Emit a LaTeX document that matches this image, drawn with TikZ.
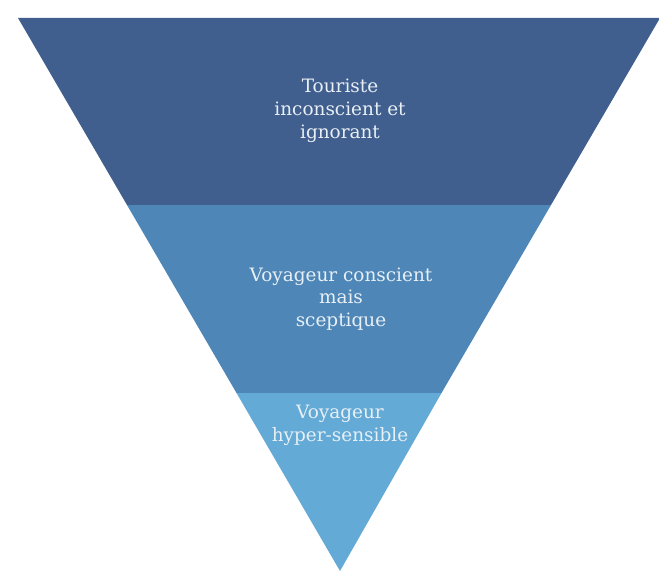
\documentclass[tikz,border=0pt]{standalone}
\usepackage{fontspec}
\setmainfont{DejaVu Serif}
\definecolor{bandtop}{RGB}{64,95,142}
\definecolor{bandmid}{RGB}{78,135,183}
\definecolor{bandlow}{RGB}{99,170,214}
\definecolor{labeltxt}{RGB}{232,239,245}

\begin{document}
\begin{tikzpicture}[x=0.02cm, y=-0.02cm,
    bandlabel/.style={text=labeltxt, align=center, font=\fontsize{10.5}{13}\selectfont, anchor=center}]
    % Cadre de l'image
    \useasboundingbox (0,0) rectangle (659,571);

    % Sommets du triangle et limites des bandes
    \coordinate (tl) at (18,18);
    \coordinate (tr) at (660,18);
    \coordinate (apex) at (340,571);
    \coordinate (ml) at (127,205);
    \coordinate (mr) at (551,205);
    \coordinate (ll) at (236.5,393);
    \coordinate (lr) at (441.5,393);

    % Les trois bandes
    \fill[bandtop] (tl) -- (tr) -- (mr) -- (ml) -- cycle;
    \fill[bandmid] (ml) -- (mr) -- (lr) -- (ll) -- cycle;
    \fill[bandlow] (ll) -- (lr) -- (apex) -- cycle;

    % Textes
    \node[bandlabel] (touriste) at (340,111) {Touriste\\inconscient et\\ignorant};
    \node[bandlabel] (conscient) at (341,299) {Voyageur conscient\\mais\\sceptique};
    \node[bandlabel] (sensible) at (340,425) {Voyageur\\hyper-sensible};
\end{tikzpicture}
\end{document}
